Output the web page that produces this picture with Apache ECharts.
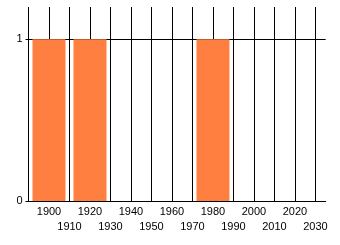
<!DOCTYPE html>
<html><head><meta charset="utf-8">
<script src="https://cdn.jsdelivr.net/npm/echarts@6/dist/echarts.min.js"></script>
<style>html,body{margin:0;padding:0;background:#fff}#c{width:340px;height:245px}</style>
</head><body><div id="c"></div>
<script>
var years = [1900, 1920, 1980];
var values = [1, 1, 1];
var xMin = 1890, xMax = 2035, xStep = 10;
var yMin = 0, yMax = 1.2, yStep = 1;

var chart = echarts.init(document.getElementById('c'), null, {renderer: 'canvas'});
var font = {fontFamily: 'Liberation Sans, Arial, sans-serif', fontSize: 11, color: '#000'};
chart.setOption({
  animation: false,
  grid: {left: 28.5, right: 14.3, top: 7, bottom: 44},
  xAxis: {
    type: 'value', min: xMin, max: xMax, interval: xStep,
    axisLine: {show: true, lineStyle: {color: '#000', width: 1}},
    axisTick: {show: false},
    splitLine: {show: true, showMinLine: true, showMaxLine: false, lineStyle: {color: '#000', width: 1}},
    axisLabel: Object.assign({}, font, {
      margin: 3, lineHeight: 15, showMinLabel: false, showMaxLabel: false,
      formatter: function (v) {
        return (((v - 1900) / 10) % 2 === 1) ? '\n' + v : '' + v;
      }
    })
  },
  yAxis: {
    type: 'value', min: yMin, max: yMax, interval: yStep,
    axisLine: {show: false},
    axisTick: {show: true, length: 3, lineStyle: {color: '#000'}},
    splitLine: {show: true, showMaxLine: false, lineStyle: {color: '#000', width: 1}},
    axisLabel: Object.assign({}, font, {margin: 6, showMaxLabel: false})
  },
  series: [{
    type: 'bar',
    barWidth: 33,
    itemStyle: {color: '#ff7f40'},
    data: years.map(function (y, i) { return [y, values[i]]; })
  }]
});
</script></body></html>
